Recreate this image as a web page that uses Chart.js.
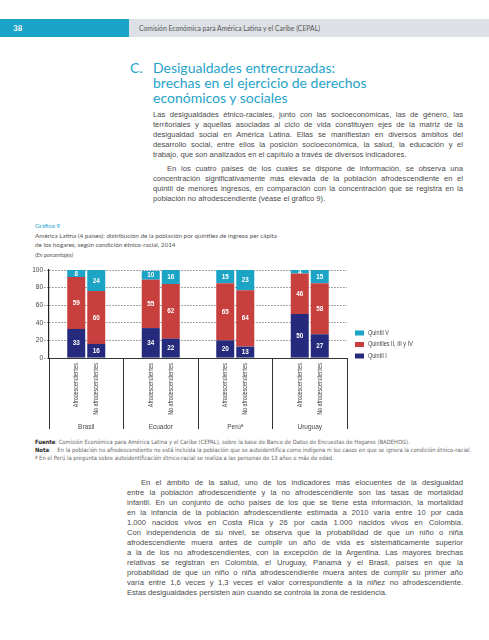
<!DOCTYPE html>
<html lang="es">
<head>
<meta charset="utf-8">
<script src="https://cdn.jsdelivr.net/npm/chart.js@4.4.0/dist/chart.umd.min.js"></script>
<style>
  body { margin: 0; width: 489px; height: 640px; position: relative; background: #fff; overflow: hidden; }
  .abs { position: absolute; }
  #bandL { left: 0; top: 19px; width: 129px; height: 18px; background: #1BA3C8; }
  #bandR { left: 129px; top: 19px; width: 360px; height: 18px; background: #DDE1E6; }
  #pagenum { left: 13px; top: 22px; color: #fff; font: bold 8px Lato, sans-serif; line-height: 12px; }
  #runhead { left: 139px; top: 22px; color: #555; font: 6.8px Lato, sans-serif; line-height: 12px; }
  #titleC { left: 130px; top: 60px; color: #25A3C9; font: 14px Lato, sans-serif; line-height: 15px; }
  #title { left: 153px; top: 60px; color: #25A3C9; font: 14px Lato, sans-serif; line-height: 15px; }
  .body { color: #4a4a4a; font: 7.6px "Liberation Sans", Arial, sans-serif; line-height: 10px; }
  .body div { text-align: justify; text-align-last: justify; white-space: nowrap; }
  .body div.last { text-align-last: left; }
  #p1 { left: 153px; top: 110.4px; width: 310px; }
  #p2 { left: 153px; top: 164.4px; width: 310px; }
  #p3 { left: 127px; top: 478.4px; width: 336px; }
  .ind { padding-left: 14px; }
  #fig { left: 35px; top: 221px; color: #555; font: 6.3px Lato, sans-serif; line-height: 9.5px; }
  #fig .num { color: #1BA3C8; }
  #fig .unit { font-style: italic; font-size: 5.8px; }
  #notes { left: 35px; top: 438px; color: #666; font: 5.8px "Liberation Sans Narrow", "DejaVu Sans Condensed", sans-serif; line-height: 8px; white-space: nowrap; }
  #notes b { color: #222; }
  #chartBox { left: 0; top: 262px; width: 489px; height: 172px; }
</style>
</head>
<body>
<div class="abs" id="bandL"></div>
<div class="abs" id="bandR"></div>
<div class="abs" id="pagenum">38</div>
<div class="abs" id="runhead">Comisión Económica para América Latina y el Caribe (CEPAL)</div>

<div class="abs" id="titleC">C.</div>
<div class="abs" id="title">Desigualdades entrecruzadas:<br>brechas en el ejercicio de derechos<br>económicos y sociales</div>

<div class="abs body" id="p1">
  <div>Las desigualdades étnico-raciales, junto con las socioeconómicas, las de género, las</div>
  <div>territoriales y aquellas asociadas al ciclo de vida constituyen ejes de la matriz de la</div>
  <div>desigualdad social en América Latina. Ellas se manifiestan en diversos ámbitos del</div>
  <div>desarrollo social, entre ellos la posición socioeconómica, la salud, la educación y el</div>
  <div class="last">trabajo, que son analizados en el capítulo a través de diversos indicadores.</div>
</div>
<div class="abs body" id="p2">
  <div class="ind">En los cuatro países de los cuales se dispone de información, se observa una</div>
  <div>concentración significativamente más elevada de la población afrodescendiente en el</div>
  <div>quintil de menores ingresos, en comparación con la concentración que se registra en la</div>
  <div class="last">población no afrodescendiente (véase el gráfico 9).</div>
</div>

<div class="abs" id="fig">
  <span class="num">Gráfico 9</span><br>
  América Latina (4 países): distribución de la población por quintiles de ingreso per cápita<br>
  de los hogares, según condición étnico-racial, 2014<br>
  <span class="unit">(En porcentajes)</span>
</div>

<div class="abs" id="chartBox"><canvas id="chart" width="489" height="172"></canvas></div>

<div class="abs" id="notes">
  <b>Fuente</b>: Comisión Económica para América Latina y el Caribe (CEPAL), sobre la base de Banco de Datos de Encuestas de Hogares (BADEHOG).<br>
  <b>Nota</b>: &nbsp;&nbsp;&nbsp;En la población no afrodescendiente no está incluida la población que se autoidentifica como indígena ni los casos en que se ignora la condición étnico-racial.<br>
  ª En el Perú la pregunta sobre autoidentificación étnico-racial se realiza a las personas de 13 años o más de edad.
</div>

<div class="abs body" id="p3">
  <div class="ind">En el ámbito de la salud, uno de los indicadores más elocuentes de la desigualdad</div>
  <div>entre la población afrodescendiente y la no afrodescendiente son las tasas de mortalidad</div>
  <div>infantil. En un conjunto de ocho países de los que se tiene esta información, la mortalidad</div>
  <div>en la infancia de la población afrodescendiente estimada a 2010 varía entre 10 por cada</div>
  <div>1.000 nacidos vivos en Costa Rica y 26 por cada 1.000 nacidos vivos en Colombia.</div>
  <div>Con independencia de su nivel, se observa que la probabilidad de que un niño o niña</div>
  <div>afrodescendiente muera antes de cumplir un año de vida es sistemáticamente superior</div>
  <div>a la de los no afrodescendientes, con la excepción de la Argentina. Las mayores brechas</div>
  <div>relativas se registran en Colombia, el Uruguay, Panamá y el Brasil, países en que la</div>
  <div>probabilidad de que un niño o niña afrodescendiente muera antes de cumplir su primer año</div>
  <div>varía entre 1,6 veces y 1,3 veces el valor correspondiente a la niñez no afrodescendiente.</div>
  <div class="last">Estas desigualdades persisten aún cuando se controla la zona de residencia.</div>
</div>

<script>
// datos del gráfico (porcentajes)
var countries = ['Brasil', 'Ecuador', 'Perúª', 'Uruguay'];
var groups = ['Afrodescendientes', 'No afrodescendientes'];
var quintiles = ['Quintil I', 'Quintiles II, III y IV', 'Quintil V'];
var afroQ1 = [33, 34, 20, 50];
var afroQ234 = [59, 55, 65, 46];
var afroQ5 = [8, 10, 15, 4];
var noAfroQ1 = [16, 22, 13, 27];
var noAfroQ234 = [60, 62, 64, 58];
var noAfroQ5 = [24, 16, 23, 15];
var yTicks = [0, 20, 40, 60, 80, 100];

var colors = ['#262A7C', '#C8403E', '#1CA4C6'];
var chartFont = '"Liberation Sans", Arial, sans-serif';

function ds(label, values, color, stack) {
    return { label: label, data: values, backgroundColor: color, borderWidth: 0, stack: stack };
}

var datasets = [
    ds(quintiles[0], afroQ1, colors[0], 'afro'),
    ds(quintiles[1], afroQ234, colors[1], 'afro'),
    ds(quintiles[2], afroQ5, colors[2], 'afro'),
    ds(quintiles[0], noAfroQ1, colors[0], 'noafro'),
    ds(quintiles[1], noAfroQ234, colors[1], 'noafro'),
    ds(quintiles[2], noAfroQ5, colors[2], 'noafro')
];

// texto estrecho (no hay fuente condensada instalada)
function narrowText(ctx, text, x, y, sx) {
    ctx.save();
    ctx.translate(x, y);
    ctx.scale(sx, 1);
    ctx.fillText(text, 0, 0);
    ctx.restore();
}

// numeros en los segmentos, etiquetas giradas y leyenda
var extras = {
    id: 'extras',
    afterDatasetsDraw: function(chart) {
        var ctx = chart.ctx;
        ctx.save();
        ctx.fillStyle = '#fff';
        ctx.font = 'bold 7.5px ' + chartFont;
        ctx.textAlign = 'center';
        ctx.textBaseline = 'middle';
        chart.data.datasets.forEach(function(d, di) {
            chart.getDatasetMeta(di).data.forEach(function(bar, i) {
                narrowText(ctx, String(d.data[i]), bar.x, (bar.y + bar.base) / 2, 0.85);
            });
        });
        ctx.restore();
    },
    afterDraw: function(chart) {
        var ctx = chart.ctx;
        var area = chart.chartArea;
        ctx.save();
        ctx.fillStyle = '#444';
        ctx.font = '6.5px ' + chartFont;
        ctx.textAlign = 'right';
        ctx.textBaseline = 'middle';
        groups.forEach(function(g, gi) {
            var meta = chart.getDatasetMeta(gi * 3);
            meta.data.forEach(function(bar) {
                ctx.save();
                ctx.translate(bar.x, area.bottom + 5);
                ctx.rotate(-Math.PI / 2);
                ctx.scale(0.82, 1);
                ctx.fillText(g, 0, 0);
                ctx.restore();
            });
        });
        // leyenda
        var lx = area.right + 8;
        var ly = area.bottom - 25;
        ctx.textAlign = 'left';
        for (var k = quintiles.length - 1; k >= 0; k--) {
            ctx.fillStyle = colors[k];
            ctx.fillRect(lx, ly - 2.5, 9, 5);
            ctx.fillStyle = '#444';
            narrowText(ctx, quintiles[k], lx + 13, ly, 0.85);
            ly += 11.5;
        }
        ctx.restore();
    }
};

var ctx = document.getElementById('chart').getContext('2d');
var chart = new Chart(ctx, {
    type: 'bar',
    data: { labels: countries, datasets: datasets },
    options: {
        responsive: false,
        animation: false,
        layout: { padding: { top: 8, right: 142, left: 0, bottom: 0 } },
        datasets: { bar: { categoryPercentage: 0.537, barPercentage: 0.9 } },
        plugins: { legend: { display: false }, tooltip: { enabled: false } },
        scales: {
            x: {
                stacked: true,
                grid: { offset: true, drawOnChartArea: false, tickLength: 71, color: '#333', lineWidth: 1 },
                border: { color: '#333', width: 1 },
                ticks: { padding: -6, color: '#444', font: { family: chartFont, size: 6.5 } },
                afterFit: function(s) { s.height = 76; }
            },
            y: {
                stacked: true,
                min: 0,
                max: 100,
                afterBuildTicks: function(s) { s.ticks = yTicks.map(function(v) { return { value: v }; }); },
                ticks: { padding: 1, color: '#444', font: { family: chartFont, size: 6.5 } },
                grid: { color: '#666', lineWidth: 0.8, tickLength: 5, tickBorderDash: [1.5, 1.5] },
                border: { color: '#222', width: 1.2, dash: [1.5, 1.5] },
                afterFit: function(s) { s.width = 49; }
            }
        }
    },
    plugins: [extras]
});
</script>
</body>
</html>
